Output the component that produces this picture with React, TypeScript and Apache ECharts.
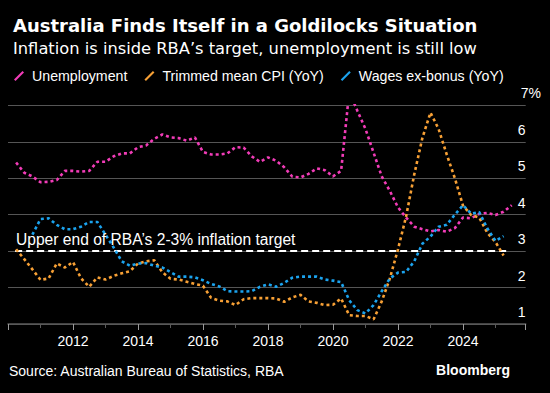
import React, { useEffect, useRef } from 'react';
import * as echarts from 'echarts';

const FONT = 'Liberation Sans, Arial, sans-serif';
const HEAD_FONT = 'DejaVu Sans, Liberation Sans, sans-serif';

const titleText = 'Australia Finds Itself in a Goldilocks Situation';
const subtitleText = 'Inflation is inside RBA\u2019s target, unemployment is still low';
const sourceText = 'Source: Australian Bureau of Statistics, RBA';
const brandText = 'Bloomberg';
const targetText = 'Upper end of RBA\u2019s 2-3% inflation target';

const seriesNames = ['Unemployment', 'Trimmed mean CPI (YoY)', 'Wages ex-bonus (YoY)'];
const seriesColors = ['#f23cb8', '#f7a035', '#1ba3ee'];

// quarter-end dates as decimal years
const quarterEnd = [
  2010.25, 2010.5, 2010.75,
  2011.0, 2011.25, 2011.5, 2011.75,
  2012.0, 2012.25, 2012.5, 2012.75,
  2013.0, 2013.25, 2013.5, 2013.75,
  2014.0, 2014.25, 2014.5, 2014.75,
  2015.0, 2015.25, 2015.5, 2015.75,
  2016.0, 2016.25, 2016.5, 2016.75,
  2017.0, 2017.25, 2017.5, 2017.75,
  2018.0, 2018.25, 2018.5, 2018.75,
  2019.0, 2019.25, 2019.5, 2019.75,
  2020.0, 2020.25, 2020.5, 2020.75,
  2021.0, 2021.25, 2021.5, 2021.75,
  2022.0, 2022.25, 2022.5, 2022.75,
  2023.0, 2023.25, 2023.5, 2023.75,
  2024.0, 2024.25, 2024.5, 2024.75,
  2025.0, 2025.25, 2025.5,
];

const unemployment = [
  5.43, 5.15, 5.05,
  4.89, 4.9, 4.95, 5.2,
  5.2, 5.18, 5.2, 5.45,
  5.45, 5.6, 5.68, 5.68,
  5.85, 5.9, 6.08, 6.2,
  6.12, 6.1, 6.03, 6.12,
  5.72, 5.65, 5.65, 5.68,
  5.85, 5.84, 5.6, 5.45,
  5.57, 5.48, 5.3, 5.04,
  5.02, 5.12, 5.27, 5.22,
  5.05, 5.2, 7.37, 6.85,
  6.35, 5.7, 5.05, 4.65,
  4.2, 3.92, 3.67, 3.6,
  3.54, 3.58, 3.53, 3.63,
  3.92, 3.9, 4.02, 4.05,
  3.99, 4.08, 4.26,
];

const trimmedMeanCpi = [
  3.05, 2.78, 2.5,
  2.21, 2.25, 2.66, 2.55,
  2.7, 2.25, 2.02, 2.28,
  2.22, 2.32, 2.39, 2.45,
  2.66, 2.72, 2.75, 2.42,
  2.24, 2.22, 2.16, 2.1,
  2.05, 1.72, 1.64, 1.62,
  1.52, 1.68, 1.71, 1.71,
  1.71, 1.7, 1.61, 1.73,
  1.8, 1.62, 1.58, 1.52,
  1.53, 1.7, 1.24, 1.22,
  1.22, 1.13, 1.62, 2.25,
  3.05, 3.95, 5.1, 6.1,
  6.8, 6.35, 5.65, 5.0,
  4.25, 3.99, 3.92, 3.5,
  3.25, 2.88, null,
];

const wagesExBonus = [
  null, null, 3.45,
  3.88, 3.9, 3.72, 3.6,
  3.6, 3.67, 3.8, 3.8,
  3.45, 3.1, 2.72, 2.6,
  2.66, 2.67, 2.6, 2.55,
  2.42, 2.3, 2.3, 2.28,
  2.2, 2.1, 2.03, 1.9,
  1.89, 1.89, 1.9, 2.02,
  2.09, 2.02, 2.13, 2.27,
  2.3, 2.3, 2.3, 2.22,
  2.19, 2.15, 1.65, 1.38,
  1.29, 1.52, 1.9, 2.25,
  2.41, 2.43, 2.72, 3.2,
  3.4, 3.67, 3.72, 4.0,
  4.26, 4.03, 4.07, 3.62,
  3.28, 3.41, null,
];

const targetLevel = 3;
const targetStart = 2010.22;
const targetEnd = 2025.45;

const xMin = 2010;
const xMax = 2025.93;
const yMin = 1;
const yMax = 7;

const seriesValues = [unemployment, trimmedMeanCpi, wagesExBonus];

function buildOption() {
  const series: any[] = seriesNames.map((name, k) => ({
    name,
    type: 'line',
    data: quarterEnd.map((x, i) => [x, seriesValues[k][i]]),
    showSymbol: false,
    symbol: 'none',
    connectNulls: false,
    z: 3 + k,
    itemStyle: { color: seriesColors[k] },
    lineStyle: { color: seriesColors[k], width: 2.6, type: [3, 3], cap: 'butt' },
  }));
  series[1].markLine = {
    symbol: 'none',
    silent: true,
    animation: false,
    lineStyle: { color: '#ffffff', width: 2, type: [7, 4] },
    label: { show: false },
    data: [[{ coord: [targetStart, targetLevel] }, { coord: [targetEnd, targetLevel] }]],
    z: 2,
  };

  return {
    backgroundColor: '#000000',
    animation: false,
    textStyle: { fontFamily: FONT },
    title: [
      {
        text: titleText,
        left: 8,
        top: 11,
        textStyle: { color: '#ffffff', fontSize: 18, fontWeight: 'bold', fontFamily: HEAD_FONT },
      },
      {
        text: subtitleText,
        left: 8,
        top: 35,
        textStyle: { color: '#ffffff', fontSize: 16.3, fontWeight: 'normal', fontFamily: HEAD_FONT },
      },
    ],
    legend: {
      left: 9,
      top: 64,
      itemWidth: 10,
      itemHeight: 10,
      itemGap: 17,
      icon: 'path://M0,8.5 L8.5,0 L10,1.5 L1.5,10 Z',
      textStyle: { color: '#ffffff', fontSize: 14.2, fontFamily: FONT, padding: [0, 0, 0, 3] },
      data: seriesNames,
    },
    grid: { left: 8, right: 24.3, top: 105.3, bottom: 69, containLabel: false },
    xAxis: {
      type: 'value',
      min: xMin,
      max: xMax,
      interval: 2,
      axisLine: { show: true, lineStyle: { color: '#5a5a5a', width: 1.5 } },
      axisTick: { show: true, length: 6, lineStyle: { color: '#9a9a9a', width: 1 } },
      minorTick: { show: true, splitNumber: 2, length: 4, lineStyle: { color: '#5a5a5a', width: 1 } },
      splitLine: { show: false },
      axisLabel: {
        color: '#ffffff',
        fontSize: 14,
        margin: 10,
        fontFamily: FONT,
        showMinLabel: false,
        showMaxLabel: false,
        formatter: (v: number) => (Number.isInteger(v) && v > xMin ? String(v) : ''),
      },
    },
    yAxis: {
      type: 'value',
      position: 'right',
      min: yMin,
      max: yMax,
      interval: 1,
      axisLine: { show: false },
      axisTick: { show: false },
      splitLine: { show: true, lineStyle: { color: '#555555', width: 1 } },
      axisLabel: {
        inside: true,
        align: 'left',
        verticalAlign: 'bottom',
        margin: 8,
        padding: [0, 0, 5, 0],
        color: '#ffffff',
        fontSize: 14,
        fontFamily: FONT,
        formatter: (v: number) => (v === yMax ? '{t|' + v + '%}' : String(v)),
        rich: { t: { color: '#ffffff', fontSize: 14, fontFamily: FONT, padding: [0, 0, 0, 3] } },
      },
    },
    graphic: [
      {
        type: 'text',
        left: 16,
        top: 231.5,
        z: 10,
        style: { text: targetText, fill: '#ffffff', font: '15.6px ' + FONT },
      },
      {
        type: 'text',
        left: 9,
        top: 364,
        style: { text: sourceText, fill: '#ffffff', font: '14px ' + FONT },
      },
      {
        type: 'text',
        right: 40,
        top: 363,
        style: { text: brandText, fill: '#ffffff', font: 'bold 14px ' + FONT },
      },
    ],
    series,
  };
}

export default function App() {
  const ref = useRef<HTMLDivElement>(null);
  useEffect(() => {
    document.body.style.margin = '0';
    document.body.style.background = '#000';
    const chart = echarts.init(ref.current as HTMLDivElement, null, { renderer: 'svg' });
    chart.setOption(buildOption() as any);
    return () => chart.dispose();
  }, []);
  return <div ref={ref} style={{ width: 550, height: 393, background: '#000' }} />;
}
